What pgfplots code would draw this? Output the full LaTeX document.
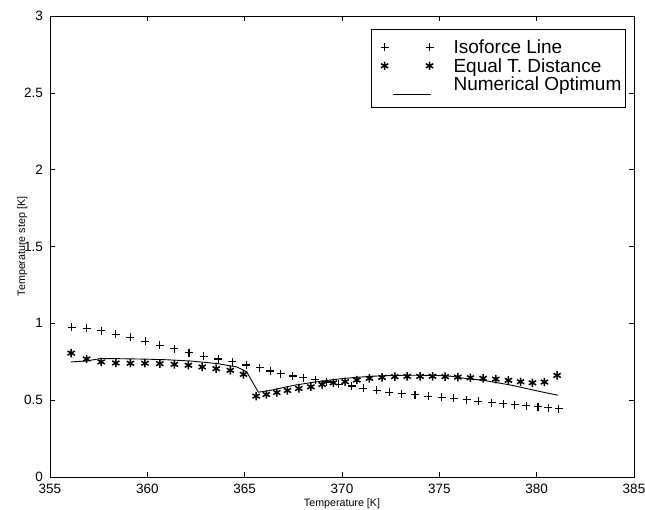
\documentclass[border=0pt]{standalone}
\usepackage{fontspec}
\setmainfont{Liberation Sans}
\usepackage{pgfplots}
\pgfplotsset{compat=1.18}

% MATLAB-style legend entries: two marks side by side, or a short line
\pgfplotsset{
    plusleg/.style={legend image code/.code={%
        \path[draw=none] (-9pt,0pt) -- (69pt,0pt);
        \draw[black, line width=1.1pt] plot[only marks, mark=+, mark size=4pt]
            coordinates {(0pt,2.75pt) (45pt,2.75pt)};}},
    starleg/.style={legend image code/.code={%
        \path[draw=none] (-9pt,0pt) -- (69pt,0pt);
        \draw[black, line width=1.5pt] plot[only marks, mark=asterisk, mark size=4.2pt]
            coordinates {(0pt,2.75pt) (45pt,2.75pt)};}},
    optleg/.style={legend image code/.code={%
        \path[draw=none] (-9pt,0pt) -- (69pt,0pt);
        \draw[black, line width=0.9pt] (8pt,-7.75pt) -- (46pt,-7.75pt);}},
}

\begin{document}
\begin{tikzpicture}
\begin{axis}[
    at={(50pt,33pt)}, anchor=south west,
    scale only axis, width=584pt, height=461pt,
    xmin=355, xmax=385, ymin=0, ymax=3,
    xtick={355,360,365,370,375,380,385},
    ytick={0,0.5,1,1.5,2,2.5,3},
    tick align=inside, xtick pos=both, ytick pos=both,
    major tick length=5pt,
    tick style={line width=0.6pt, black},
    axis line style={line width=0.8pt},
    /pgf/number format/assume math mode=true,
    tick label style={font=\fontsize{13.5}{14}\selectfont},
    xticklabel style={yshift=-3.5pt},
    yticklabel style={xshift=-3.5pt},
    xlabel={Temperature [K]},
    ylabel={Temperature step [K]},
    label style={font=\fontsize{10.7}{11}\selectfont},
    xlabel style={at={(axis description cs:0.5,0)}, anchor=base, yshift=-30pt},
    ylabel style={at={(axis description cs:-0.0428,0.5)}, anchor=base},
    legend cell align=left,
    legend style={at={(0.986,0.972)}, anchor=north east, draw=black, line width=0.8pt,
                  font=\fontsize{19}{19}\selectfont,
                  inner xsep=4pt, inner ysep=11.5pt, row sep=0pt,
                  nodes={inner sep=0pt, text height=13pt, text depth=5.5pt}},
]

% Isoforce Line
\addplot[only marks, mark=+, mark size=4pt, line width=1.1pt, plusleg]
coordinates {
(356.12,0.974) (356.88,0.967) (357.63,0.952) (358.38,0.930) (359.13,0.908)
(359.90,0.882) (360.64,0.858) (361.39,0.834) (362.14,0.810) (362.89,0.786)
(363.65,0.768) (364.36,0.751) (365.08,0.729) (365.77,0.712) (366.31,0.690)
(366.86,0.672) (367.47,0.657) (368.02,0.646) (368.62,0.633) (369.22,0.618)
(369.83,0.602) (370.50,0.592) (371.10,0.576) (371.78,0.563) (372.43,0.552)
(373.06,0.543) (373.75,0.535) (374.43,0.526) (375.12,0.519) (375.75,0.511)
(376.40,0.502) (376.99,0.493) (377.68,0.484) (378.28,0.478) (378.88,0.471)
(379.47,0.465) (380.07,0.458) (380.59,0.452) (381.13,0.445)
};

% Equal T. Distance
\addplot[only marks, mark=asterisk, mark size=4.2pt, line width=1.5pt, starleg]
coordinates {
(356.09,0.806) (356.88,0.768) (357.63,0.749) (358.38,0.742) (359.13,0.740)
(359.88,0.740) (360.64,0.738) (361.39,0.733) (362.11,0.727) (362.82,0.716)
(363.54,0.705) (364.26,0.694) (364.94,0.668) (365.59,0.526) (366.11,0.537)
(366.65,0.550) (367.20,0.563) (367.78,0.576) (368.40,0.587) (368.98,0.602)
(369.56,0.613) (370.16,0.620) (370.76,0.631) (371.41,0.642) (372.06,0.648)
(372.71,0.653) (373.35,0.655) (374.01,0.655) (374.65,0.655) (375.30,0.653)
(375.95,0.650) (376.60,0.646) (377.25,0.642) (377.90,0.637) (378.55,0.629)
(379.17,0.620) (379.78,0.613) (380.40,0.618) (381.05,0.661)
};

% Numerical Optimum
\addplot[black, line width=0.9pt, mark=none, optleg]
coordinates {
(356.09,0.749) (356.88,0.755) (357.60,0.771) (358.50,0.770) (359.90,0.767)
(361.00,0.763) (362.20,0.755) (363.60,0.738) (364.60,0.716) (365.10,0.685)
(365.70,0.552) (366.30,0.563) (366.90,0.580) (367.60,0.598) (368.40,0.614)
(369.20,0.628) (370.00,0.640) (370.80,0.649) (371.60,0.656) (372.40,0.660)
(373.20,0.662) (374.00,0.662) (374.80,0.661) (375.60,0.656) (376.40,0.640)
(377.20,0.630) (378.00,0.613) (378.80,0.595) (379.60,0.572) (380.40,0.550)
(381.10,0.532)
};

\legend{Isoforce Line, Equal T. Distance, Numerical Optimum}
\end{axis}
\pgfresetboundingbox
\path[use as bounding box] (0,0) rectangle (645pt,510pt);
\end{tikzpicture}
\end{document}
